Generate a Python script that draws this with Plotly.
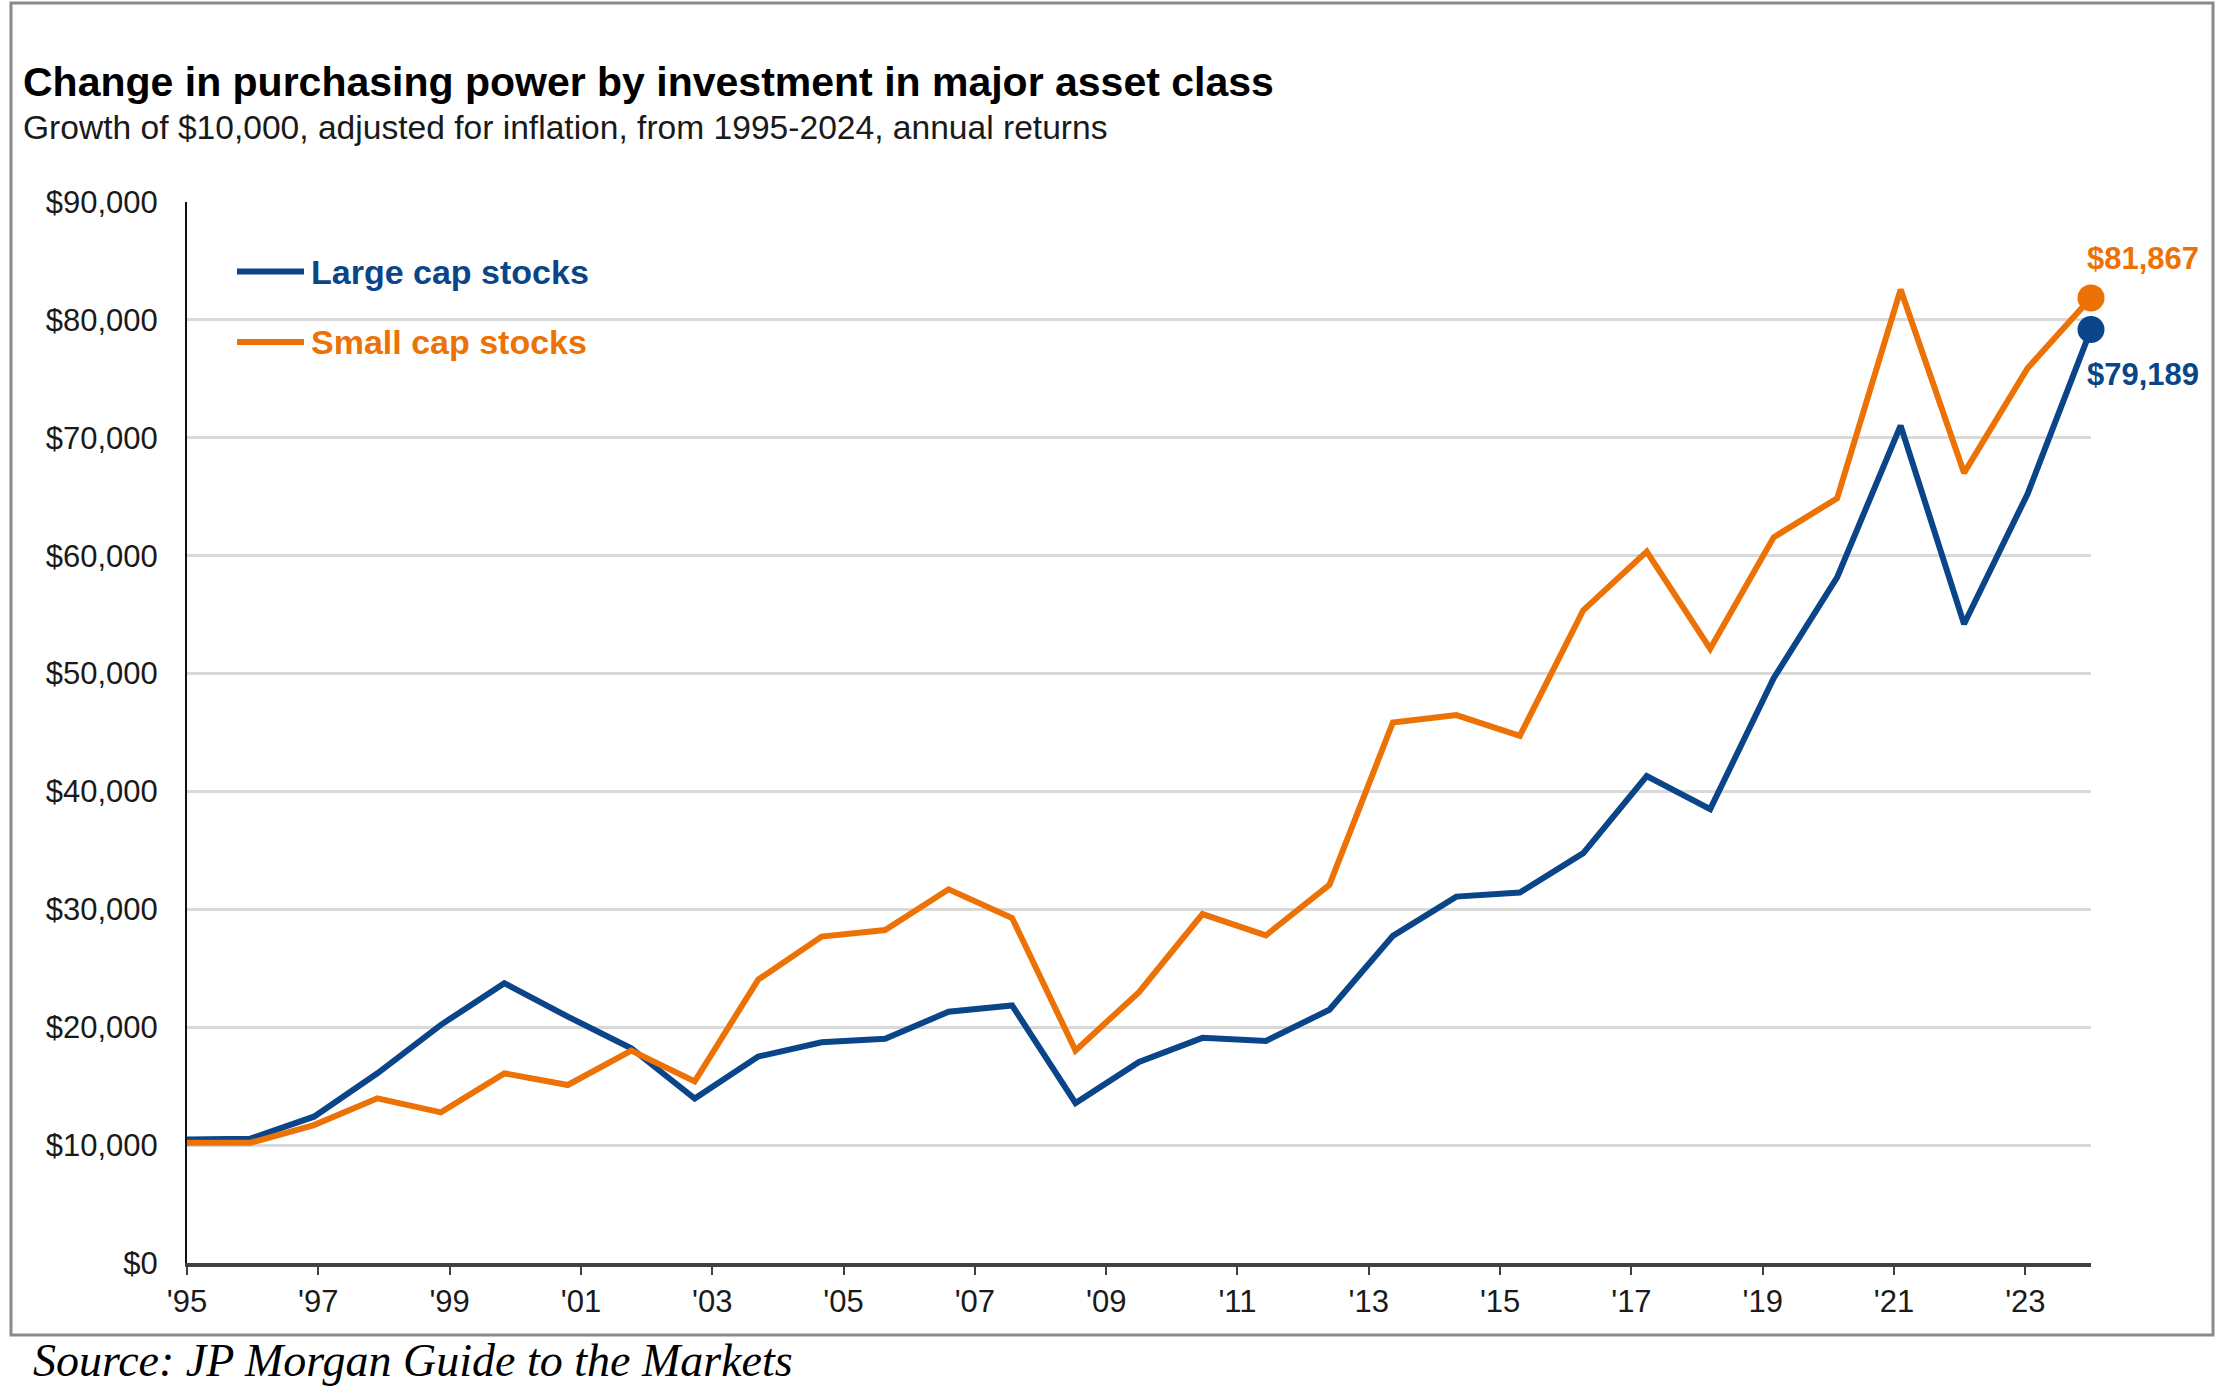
import plotly.graph_objects as go

# ---------------- data ----------------
point_years = [1994, 1995, 1996, 1997, 1998, 1999, 2000, 2001, 2002, 2003,
               2004, 2005, 2006, 2007, 2008, 2009, 2010, 2011, 2012, 2013,
               2014, 2015, 2016, 2017, 2018, 2019, 2020, 2021, 2022, 2023, 2024]

large_cap = [10480, 10550, 12410, 16090, 20200, 23740, 20900, 18220, 13950, 17510,
             18720, 19030, 21310, 21850, 13560, 17050, 19100, 18840, 21480, 27750,
             31080, 31420, 34770, 41310, 38500, 49600, 58160, 71030, 54200, 65230, 79189]

small_cap = [10200, 10200, 11700, 13970, 12780, 16090, 15100, 18020, 15400, 24040,
             27690, 28240, 31700, 29270, 18020, 22980, 29600, 27800, 32070, 45850,
             46480, 44720, 55370, 60340, 52100, 61560, 64870, 82570, 67020, 75900, 81867]

tick_years = [1995, 1997, 1999, 2001, 2003, 2005, 2007, 2009, 2011, 2013, 2015, 2017, 2019, 2021, 2023]
tick_labels = ["'95", "'97", "'99", "'01", "'03", "'05", "'07", "'09", "'11", "'13",
               "'15", "'17", "'19", "'21", "'23"]

series_names = ["Large cap stocks", "Small cap stocks"]
end_labels = ["$79,189", "$81,867"]

title_text = "Change in purchasing power by investment in major asset class"
subtitle_text = "Growth of $10,000, adjusted for inflation, from 1995-2024, annual returns"
source_text = "Source: JP Morgan Guide to the Markets"

# ---------------- style ----------------
BLUE = "#0b4589"
ORANGE = "#ec7206"
W, H = 2217, 1393
L, R, T, B = 187, 2091, 202, 1263
PW, PH = R - L, B - T


def px(xp):
    return (xp - L) / PW


def py(yp):
    return (B - yp) / PH


x0, x1 = point_years[0], point_years[-1]
n_int = len(point_years) - 1
# reference draws its year labels spread across the whole axis
tickvals = [x0 + (y - tick_years[0]) * n_int / (n_int - 1) for y in tick_years]

fig = go.Figure()

for vals, color in [(large_cap, BLUE), (small_cap, ORANGE)]:
    fig.add_trace(go.Scatter(
        x=point_years, y=vals, mode="lines",
        line=dict(color=color, width=6), cliponaxis=False,
        hoverinfo="skip", showlegend=False))

for vals, color in [(small_cap, ORANGE), (large_cap, BLUE)]:
    fig.add_trace(go.Scatter(
        x=[point_years[-1]], y=[vals[-1]], mode="markers",
        marker=dict(color=color, size=27), cliponaxis=False,
        hoverinfo="skip", showlegend=False))

fig.update_layout(
    width=W, height=H,
    margin=dict(l=L, r=W - R, t=T, b=H - B, pad=0),
    paper_bgcolor="white", plot_bgcolor="white",
    font=dict(family="Liberation Sans, Arial, sans-serif", color="#1a1a1a"),
    showlegend=False,
)

fig.update_xaxes(
    range=[x0, x1],
    tickmode="array", tickvals=tickvals, ticktext=tick_labels,
    ticks="outside", ticklen=8, tickwidth=2, tickcolor="#404040",
    showline=True, linecolor="#404040", linewidth=4,
    showgrid=False, zeroline=False,
    tickfont=dict(size=31, color="#1a1a1a"),
    ticklabelstandoff=0,
)

fig.update_yaxes(
    range=[0, 90000], dtick=10000, tick0=0,
    tickprefix="$", tickformat=",d",
    showline=True, linecolor="#111111", linewidth=2,
    showgrid=True, gridcolor="#d9d9d9", gridwidth=3,
    zeroline=False, ticks="",
    tickfont=dict(size=31, color="#1a1a1a"),
    ticklabelstandoff=21,
)

annotations = [
    dict(text="<b>" + title_text + "</b>", x=px(21), y=py(82),
         font=dict(size=41, color="#000000")),
    dict(text=subtitle_text, x=px(21), y=py(127),
         font=dict(size=33.6, color="#1a1a1a")),
    dict(text="<i>" + source_text + "</i>", x=px(31), y=py(1360),
         font=dict(size=46, color="#000000", family="Liberation Serif, Times New Roman, serif")),
]
for a in annotations:
    a.update(xref="paper", yref="paper", xanchor="left", yanchor="middle", showarrow=False)

# legend drawn inside the plot
legend_rows = [(series_names[0], BLUE, 271.5), (series_names[1], ORANGE, 342)]
shapes = []
for name, color, yy in legend_rows:
    shapes.append(dict(type="line", xref="paper", yref="paper",
                       x0=px(237), x1=px(304), y0=py(yy), y1=py(yy),
                       line=dict(color=color, width=6)))
    annotations.append(dict(text="<b>" + name + "</b>", xref="paper", yref="paper",
                            x=px(309), y=py(yy), xanchor="left", yanchor="middle",
                            showarrow=False, font=dict(size=34, color=color)))

# end value labels
annotations.append(dict(text="<b>" + end_labels[1] + "</b>", x=point_years[-1], y=small_cap[-1],
                        xref="x", yref="y", xanchor="left", yanchor="middle",
                        xshift=-6, yshift=39, showarrow=False,
                        font=dict(size=31, color=ORANGE)))
annotations.append(dict(text="<b>" + end_labels[0] + "</b>", x=point_years[-1], y=large_cap[-1],
                        xref="x", yref="y", xanchor="left", yanchor="middle",
                        xshift=-6, yshift=-45, showarrow=False,
                        font=dict(size=31, color=BLUE)))

# outer frame
shapes.append(dict(type="rect", xref="paper", yref="paper",
                   x0=px(11), x1=px(2213), y0=py(1335), y1=py(3),
                   line=dict(color="#8a8a8a", width=3), fillcolor="rgba(0,0,0,0)", layer="below"))

fig.update_layout(annotations=annotations, shapes=shapes)

fig.write_html(
    "out.html",
    config={"displayModeBar": False},
    post_script="document.body.style.margin='0';document.body.style.overflow='hidden';",
)
